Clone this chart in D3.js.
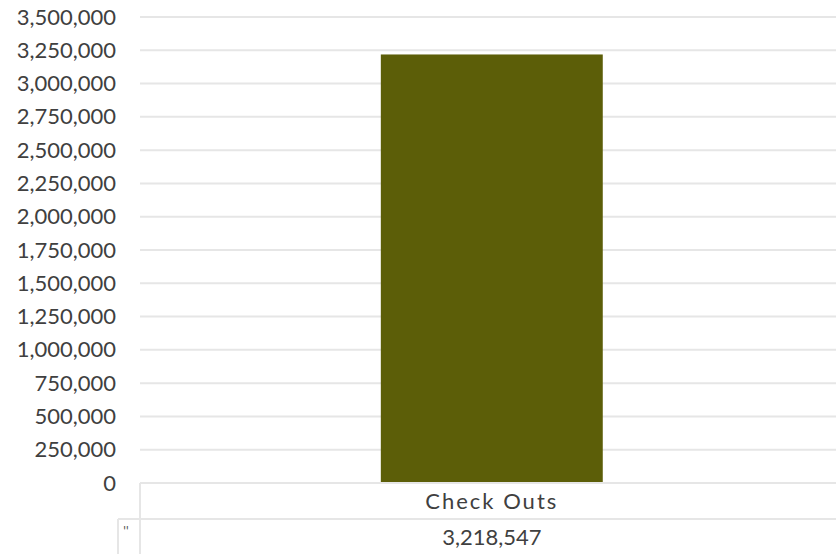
<!DOCTYPE html>
<html>
<head>
<meta charset="utf-8">
<script src="https://cdn.jsdelivr.net/npm/d3@7"></script>
<style>
  body { margin: 0; background: #fff; }
  text { font-family: "Lato", "DejaVu Sans", sans-serif; fill: #404040; }
</style>
</head>
<body>
<div id="chart"></div>
<script>
// data
const categories = ["Check Outs"];
const values = [3218547];
const yTicks = [0, 250000, 500000, 750000, 1000000, 1250000, 1500000, 1750000,
                2000000, 2250000, 2500000, 2750000, 3000000, 3250000, 3500000];
const legendKey = "''";

const W = 836, H = 554;
const margin = {top: 17, right: 0, bottom: 71, left: 140};
const plotBottom = H - margin.bottom;

const svg = d3.select("#chart")
  .append("svg")
    .attr("width", W)
    .attr("height", H);

// scales
const x = d3.scaleBand()
  .domain(categories)
  .range([margin.left, W - margin.right])
  .paddingInner(0.5)
  .paddingOuter(0.534)
  .align(0.508);

const y = d3.scaleLinear()
  .domain([0, 3500000])
  .range([plotBottom, margin.top]);

// gridlines
svg.append("g")
  .selectAll("line")
  .data(yTicks.filter(d => d > 0))
  .join("line")
    .attr("x1", margin.left)
    .attr("x2", W)
    .attr("y1", d => y(d))
    .attr("y2", d => y(d))
    .attr("stroke", "#e6e6e6")
    .attr("stroke-width", 2);

// y axis labels
const fmt = d3.format(",");
svg.append("g")
  .attr("transform", `translate(${margin.left},0)`)
  .call(d3.axisLeft(y).tickValues(yTicks).tickFormat(fmt).tickSize(0).tickPadding(24))
  .call(g => g.select(".domain").remove())
  .call(g => g.selectAll("text")
    .style("font-size", "22px")
    .attr("fill", "#404040"));

// bars
svg.selectAll("rect.bar")
  .data(values)
  .join("rect")
    .attr("class", "bar")
    .attr("x", (d, i) => x(categories[i]))
    .attr("width", x.bandwidth())
    .attr("y", d => y(d))
    .attr("height", d => y(0) - y(d))
    .attr("fill", "#5c5e08");

// data table below
const row1 = plotBottom, row2 = plotBottom + 36, keyLeft = 118;
const tbl = svg.append("g")
  .attr("stroke", "#e6e6e6")
  .attr("stroke-width", 2);
tbl.append("line").attr("x1", margin.left).attr("x2", W).attr("y1", row1).attr("y2", row1);
tbl.append("line").attr("x1", keyLeft).attr("x2", W).attr("y1", row2).attr("y2", row2);
tbl.append("line").attr("x1", margin.left).attr("x2", margin.left).attr("y1", row1).attr("y2", H);
tbl.append("line").attr("x1", keyLeft).attr("x2", keyLeft).attr("y1", row2).attr("y2", H);

svg.selectAll("text.cat")
  .data(categories)
  .join("text")
    .attr("class", "cat")
    .attr("x", d => x(d) + x.bandwidth() / 2)
    .attr("y", (row1 + row2) / 2)
    .attr("dy", "0.35em")
    .attr("text-anchor", "middle")
    .style("font-size", "22px")
    .style("letter-spacing", "2px")
    .text(d => d);

svg.selectAll("text.val")
  .data(values)
  .join("text")
    .attr("class", "val")
    .attr("x", (d, i) => x(categories[i]) + x.bandwidth() / 2)
    .attr("y", row2 + 18)
    .attr("dy", "0.35em")
    .attr("text-anchor", "middle")
    .style("font-size", "22px")
    .text(d => fmt(d));

svg.append("text")
  .attr("x", (keyLeft + margin.left) / 2 - 3)
  .attr("y", row2 + 12)
  .attr("dy", "0.35em")
  .attr("text-anchor", "middle")
  .style("font-size", "13px")
  .style("fill", "#555")
  .text(legendKey);
</script>
</body>
</html>
